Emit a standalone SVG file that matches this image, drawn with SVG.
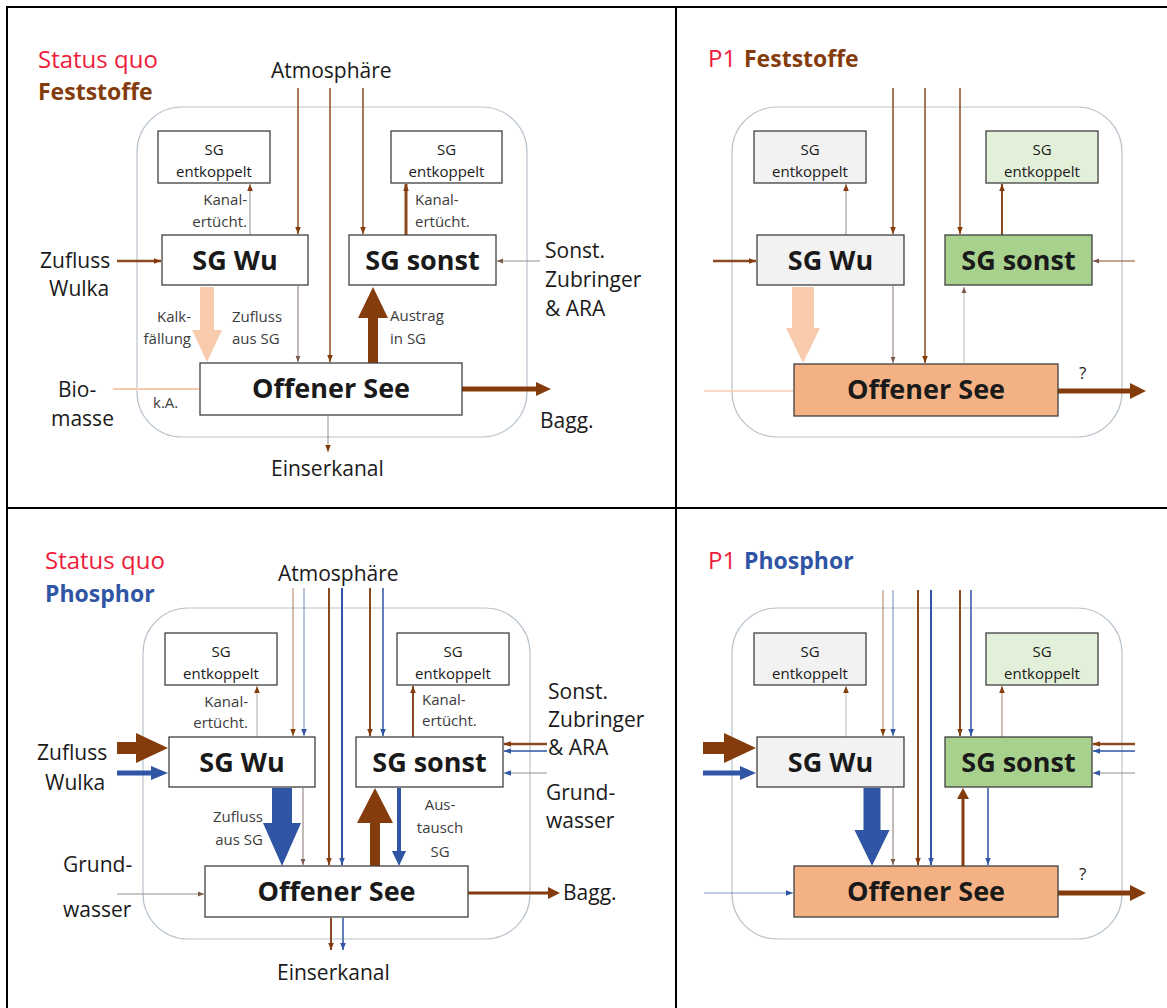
<svg xmlns="http://www.w3.org/2000/svg" width="1167" height="1008" viewBox="0 0 1167 1008">
<defs>
<style>
.t{font-family:"Open Sans","Noto Sans","Liberation Sans",sans-serif;fill:#1a1a1a}
.s{font-size:15px;fill:#3c3c3c}
.m{font-size:21px}
.b{font-size:27px;font-weight:bold;text-anchor:middle}
.n{font-size:15px;text-anchor:middle}
.c{text-anchor:middle}
.e{text-anchor:end}
.box{fill:#fff;stroke:#404040;stroke-width:1.3}
.g1{fill:#f2f2f2}
.g2{fill:#e2f0d9}
.g3{fill:#a9d18e}
.os{fill:#f4b183}
.cont{fill:none;stroke:#b9c3cc;stroke-width:1.2}
.br{stroke:#8b4a20;fill:none}
.bl{stroke:#2f55a4;fill:none}
.gr{stroke:#9a8c86;fill:none}
.lg{stroke:#c9c4c2;fill:none}
.pe{stroke:#f8cbad;fill:none}
.fb{fill:#843c0c}
.fu{fill:#2f55a4}
.fp{fill:#f8cbad}
.frame{stroke:#000;stroke-width:2;fill:none}
</style>
<marker id="mb" viewBox="0 0 10 10" refX="10" refY="5" markerWidth="7" markerHeight="7" markerUnits="userSpaceOnUse" orient="auto"><path d="M0,1 L10,5 L0,9 z" fill="#843c0c"/></marker>
<marker id="mu" viewBox="0 0 10 10" refX="10" refY="5" markerWidth="7" markerHeight="7" markerUnits="userSpaceOnUse" orient="auto"><path d="M0,1 L10,5 L0,9 z" fill="#2f55a4"/></marker>
<marker id="mg" viewBox="0 0 10 10" refX="10" refY="5" markerWidth="6" markerHeight="6" markerUnits="userSpaceOnUse" orient="auto"><path d="M0,1 L10,5 L0,9 z" fill="#7a5a4a"/></marker>
</defs>
<rect x="0" y="0" width="1167" height="1008" fill="#fff"/>
<g id="frame">
<line x1="7" y1="7" x2="1167" y2="7" class="frame"/>
<line x1="7" y1="6" x2="7" y2="1008" class="frame"/>
<line x1="676" y1="7" x2="676" y2="1008" class="frame"/>
<line x1="7" y1="508" x2="1167" y2="508" class="frame"/>
</g>

<!-- Panel 1 -->
<g id="panel1">
<rect class="cont" x="137" y="107" width="390" height="330" rx="45"/>
<g id="p1-title" class="t"><text x="38" y="68" font-size="24" style="fill:#ee1b3b">Status quo</text><text x="38" y="100" font-size="23" font-weight="bold" style="fill:#843c0c">Feststoffe</text></g>
<g id="p1-connectors">
<line x1="298" y1="88" x2="298" y2="234" class="br" stroke-width="1.5" marker-end="url(#mb)"/>
<line x1="330" y1="88" x2="330" y2="362" class="br" stroke-width="1.5" marker-end="url(#mb)"/>
<line x1="363" y1="88" x2="363" y2="234" class="br" stroke-width="1.5" marker-end="url(#mb)"/>
<line x1="250" y1="235" x2="250" y2="184" class="gr" stroke-width="1" marker-end="url(#mb)"/>
<line x1="406" y1="235" x2="406" y2="184" class="br" stroke-width="3" marker-end="url(#mb)"/>
<line x1="117" y1="261" x2="161" y2="261" class="br" stroke-width="2.5" marker-end="url(#mb)"/>
<line x1="540" y1="261" x2="497" y2="261" class="gr" stroke-width="1" marker-end="url(#mg)"/>
<polygon class="fp" points="200,287 214,287 214,330 222,330 207,362 192,330 200,330"/>
<line x1="298" y1="286" x2="298" y2="362" class="gr" stroke-width="1.2" marker-end="url(#mg)"/>
<polygon class="fb" points="373,287 388,318 378,318 378,363 368,363 368,318 358,318"/>
<line x1="462" y1="389" x2="537" y2="389" stroke="#843c0c" stroke-width="5"/>
<polygon class="fb" points="536,382 551,389 536,396"/>
<line x1="113" y1="389" x2="199" y2="389" class="pe" stroke-width="2"/>
<line x1="328" y1="416" x2="328" y2="452" class="gr" stroke-width="1" marker-end="url(#mb)"/>
</g>
<g id="p1-sge-l"><rect class="box" x="158" y="131" width="112" height="52"/><text class="t n" x="214" y="155">SG</text><text class="t n" x="214" y="177">entkoppelt</text></g>
<g id="p1-sge-r"><rect class="box" x="391" y="131" width="111" height="52"/><text class="t n" x="446.5" y="155">SG</text><text class="t n" x="446.5" y="177">entkoppelt</text></g>
<g id="p1-sgwu"><rect class="box" x="162" y="235" width="146" height="50"/><text class="t b" x="235" y="270">SG Wu</text></g>
<g id="p1-sgsonst"><rect class="box" x="349" y="235" width="147" height="50"/><text class="t b" x="422.5" y="270">SG sonst</text></g>
<g id="p1-os"><rect class="box" x="200" y="363" width="262" height="52"/><text class="t b" x="331" y="398">Offener See</text></g>
<g id="p1-labels">
<text class="t m" x="271" y="78">Atmosphäre</text>
<text class="t s e" x="247" y="205">Kanal-</text><text class="t s e" x="247" y="227">ertücht.</text>
<text class="t s" x="415" y="205">Kanal-</text><text class="t s" x="415" y="227">ertücht.</text>
<text class="t m" x="40" y="268">Zufluss</text><text class="t m" x="49" y="296">Wulka</text>
<text class="t m" x="545" y="258">Sonst.</text><text class="t m" x="545" y="287">Zubringer</text><text class="t m" x="545" y="316">&amp; ARA</text>
<text class="t s e" x="191" y="322">Kalk-</text><text class="t s e" x="191" y="344">fällung</text>
<text class="t s" x="232" y="322">Zufluss</text><text class="t s" x="232" y="344">aus SG</text>
<text class="t s" x="390" y="321">Austrag</text><text class="t s" x="390" y="344">in SG</text>
<text class="t m" x="540" y="428">Bagg.</text>
<text class="t m" x="58" y="397">Bio-</text><text class="t m" x="51" y="426">masse</text>
<text class="t s" x="153" y="408">k.A.</text>
<text class="t m" x="271" y="476">Einserkanal</text>
</g>
</g>

<!-- Panel 2 -->
<g id="panel2">
<rect class="cont" x="732" y="107" width="390" height="330" rx="45"/>
<g id="p2-title" class="t"><text x="708" y="67" font-size="24" style="fill:#ee1b3b">P1</text><text x="744" y="67" font-size="23" font-weight="bold" style="fill:#843c0c">Feststoffe</text></g>
<g id="p2-connectors">
<line x1="893" y1="88" x2="893" y2="234" class="br" stroke-width="1.5" marker-end="url(#mb)"/>
<line x1="925" y1="88" x2="925" y2="363" class="br" stroke-width="1.5" marker-end="url(#mb)"/>
<line x1="960" y1="88" x2="960" y2="234" class="br" stroke-width="1.5" marker-end="url(#mb)"/>
<line x1="846" y1="235" x2="846" y2="184" class="gr" stroke-width="1" marker-end="url(#mb)"/>
<line x1="1002" y1="235" x2="1002" y2="184" class="br" stroke-width="2" marker-end="url(#mb)"/>
<line x1="713" y1="261" x2="756" y2="261" class="br" stroke-width="2.5" marker-end="url(#mb)"/>
<line x1="1135" y1="261" x2="1093" y2="261" class="br" stroke-width="1" marker-end="url(#mg)"/>
<polygon class="fp" points="792,287 814,287 814,328 820,328 803,363 786,328 792,328"/>
<line x1="893" y1="286" x2="893" y2="363" class="gr" stroke-width="1.2" marker-end="url(#mg)"/>
<line x1="964" y1="363" x2="964" y2="287" class="lg" stroke-width="1.2" marker-end="url(#mg)"/>
<line x1="1058" y1="391" x2="1132" y2="391" stroke="#843c0c" stroke-width="5"/>
<polygon class="fb" points="1130,383 1146,391 1130,399"/>
<line x1="704" y1="391" x2="793" y2="391" class="pe" stroke-width="1.5"/>
</g>
<g id="p2-sge-l"><rect class="box g1" x="754" y="131" width="112" height="52"/><text class="t n" x="810" y="155">SG</text><text class="t n" x="810" y="177">entkoppelt</text></g>
<g id="p2-sge-r"><rect class="box g2" x="986" y="131" width="112" height="52"/><text class="t n" x="1042" y="155">SG</text><text class="t n" x="1042" y="177">entkoppelt</text></g>
<g id="p2-sgwu"><rect class="box g1" x="757" y="235" width="147" height="50"/><text class="t b" x="830.5" y="270">SG Wu</text></g>
<g id="p2-sgsonst"><rect class="box g3" x="945" y="235" width="147" height="50"/><text class="t b" x="1018.5" y="270">SG sonst</text></g>
<g id="p2-os"><rect class="box os" x="794" y="364" width="264" height="52"/><text class="t b" x="926" y="399">Offener See</text></g>
<text class="t" x="1079" y="379" font-size="17">?</text>
</g>

<!-- Panel 3 -->
<g id="panel3">
<rect class="cont" x="143" y="608" width="387" height="331" rx="45"/>
<g id="p3-title" class="t"><text x="45" y="569" font-size="24" style="fill:#ee1b3b">Status quo</text><text x="45" y="602" font-size="23" font-weight="bold" style="fill:#2f55a4">Phosphor</text></g>
<g id="p3-connectors">
<line x1="293" y1="588" x2="293" y2="736" class="br" stroke-width="1" stroke-opacity="0.7" marker-end="url(#mb)"/>
<line x1="304" y1="588" x2="304" y2="736" class="bl" stroke-width="1" stroke-opacity="0.7" marker-end="url(#mu)"/>
<line x1="329" y1="588" x2="329" y2="865" class="br" stroke-width="2" marker-end="url(#mb)"/>
<line x1="342" y1="588" x2="342" y2="865" class="bl" stroke-width="2" marker-end="url(#mu)"/>
<line x1="370" y1="588" x2="370" y2="736" class="br" stroke-width="2" marker-end="url(#mb)"/>
<line x1="383" y1="588" x2="383" y2="736" class="bl" stroke-width="1.5" marker-end="url(#mu)"/>
<line x1="257" y1="737" x2="257" y2="686" class="lg" stroke-width="1.5" marker-end="url(#mb)"/>
<line x1="413" y1="737" x2="413" y2="686" class="br" stroke-width="2" marker-end="url(#mb)"/>
<polygon class="fb" points="117,742 136,742 136,733 168,748 136,763 136,754 117,754"/>
<polygon class="fu" points="117,770.5 151,770.5 151,766 168,773 151,780 151,775.5 117,775.5"/>
<line x1="547" y1="744" x2="504" y2="744" class="br" stroke-width="2.5" marker-end="url(#mb)"/>
<line x1="547" y1="751" x2="504" y2="751" class="bl" stroke-width="1.5" marker-end="url(#mu)"/>
<line x1="547" y1="773" x2="504" y2="773" class="gr" stroke-width="1" marker-end="url(#mu)"/>
<polygon class="fu" points="272,788 292,788 292,823 301,823 282,866 263,823 272,823"/>
<line x1="303" y1="788" x2="303" y2="865" class="gr" stroke-width="1.2" marker-end="url(#mg)"/>
<polygon class="fb" points="375,788 393,823 380,823 380,866 370,866 370,823 357,823"/>
<polygon class="fu" points="397,788 401,788 401,851 406,851 399,866 392,851 397,851"/>
<line x1="468" y1="893" x2="550" y2="893" stroke="#843c0c" stroke-width="3"/>
<polygon class="fb" points="548,887 560,893 548,899"/>
<line x1="117" y1="894" x2="204" y2="894" class="gr" stroke-width="1" marker-end="url(#mg)"/>
<line x1="331" y1="918" x2="331" y2="950" class="br" stroke-width="2" marker-end="url(#mb)"/>
<line x1="343" y1="918" x2="343" y2="950" class="bl" stroke-width="1.5" marker-end="url(#mu)"/>
</g>
<g id="p3-sge-l"><rect class="box" x="165" y="633" width="112" height="52"/><text class="t n" x="221" y="657">SG</text><text class="t n" x="221" y="679">entkoppelt</text></g>
<g id="p3-sge-r"><rect class="box" x="397" y="633" width="112" height="52"/><text class="t n" x="453" y="657">SG</text><text class="t n" x="453" y="679">entkoppelt</text></g>
<g id="p3-sgwu"><rect class="box" x="169" y="737" width="146" height="50"/><text class="t b" x="242" y="772">SG Wu</text></g>
<g id="p3-sgsonst"><rect class="box" x="356" y="737" width="147" height="50"/><text class="t b" x="429.5" y="772">SG sonst</text></g>
<g id="p3-os"><rect class="box" x="205" y="866" width="263" height="51"/><text class="t b" x="336.5" y="901">Offener See</text></g>
<g id="p3-labels">
<text class="t m" x="278" y="581">Atmosphäre</text>
<text class="t s e" x="248" y="707">Kanal-</text><text class="t s e" x="248" y="728">ertücht.</text>
<text class="t s" x="422" y="705">Kanal-</text><text class="t s" x="422" y="726">ertücht.</text>
<text class="t m" x="37" y="760">Zufluss</text><text class="t m" x="45" y="790">Wulka</text>
<text class="t m" x="548" y="699">Sonst.</text><text class="t m" x="548" y="727">Zubringer</text><text class="t m" x="548" y="755">&amp; ARA</text>
<text class="t m" x="546" y="800">Grund-</text><text class="t m" x="546" y="828">wasser</text>
<text class="t s e" x="263" y="822">Zufluss</text><text class="t s e" x="263" y="845">aus SG</text>
<text class="t s c" x="440" y="810">Aus-</text><text class="t s c" x="440" y="833">tausch</text><text class="t s c" x="440" y="857">SG</text>
<text class="t m" x="563" y="900">Bagg.</text>
<text class="t m" x="63" y="872">Grund-</text><text class="t m" x="63" y="917">wasser</text>
<text class="t m" x="277" y="980">Einserkanal</text>
</g>
</g>

<!-- Panel 4 -->
<g id="panel4">
<rect class="cont" x="732" y="608" width="390" height="331" rx="45"/>
<g id="p4-title" class="t"><text x="708" y="569" font-size="24" style="fill:#ee1b3b">P1</text><text x="744" y="569" font-size="23" font-weight="bold" style="fill:#2f55a4">Phosphor</text></g>
<g id="p4-connectors">
<line x1="883" y1="590" x2="883" y2="736" class="br" stroke-width="1" stroke-opacity="0.7" marker-end="url(#mb)"/>
<line x1="893" y1="590" x2="893" y2="736" class="bl" stroke-width="1" stroke-opacity="0.7" marker-end="url(#mu)"/>
<line x1="918" y1="590" x2="918" y2="865" class="br" stroke-width="2" marker-end="url(#mb)"/>
<line x1="931" y1="590" x2="931" y2="865" class="bl" stroke-width="2" marker-end="url(#mu)"/>
<line x1="960" y1="590" x2="960" y2="736" class="br" stroke-width="2" marker-end="url(#mb)"/>
<line x1="971" y1="590" x2="971" y2="736" class="bl" stroke-width="1.5" marker-end="url(#mu)"/>
<line x1="846" y1="737" x2="846" y2="686" class="lg" stroke-width="1.2" marker-end="url(#mb)"/>
<line x1="1002" y1="737" x2="1002" y2="686" class="br" stroke-width="1.2" stroke-opacity="0.6" marker-end="url(#mb)"/>
<polygon class="fb" points="703,742 724,742 724,733 756,748 724,763 724,754 703,754"/>
<polygon class="fu" points="703,770.5 740,770.5 740,766 756,773 740,780 740,775.5 703,775.5"/>
<line x1="1135" y1="744" x2="1093" y2="744" class="br" stroke-width="2.5" marker-end="url(#mb)"/>
<line x1="1135" y1="751" x2="1093" y2="751" class="bl" stroke-width="1.5" marker-end="url(#mu)"/>
<line x1="1135" y1="773" x2="1093" y2="773" class="gr" stroke-width="1" marker-end="url(#mu)"/>
<polygon class="fu" points="863.5,788 880.5,788 880.5,830 889.5,830 872,866 854.5,830 863.5,830"/>
<line x1="893" y1="788" x2="893" y2="865" class="gr" stroke-width="1.2" marker-end="url(#mg)"/>
<line x1="963" y1="866" x2="963" y2="797" stroke="#843c0c" stroke-width="3"/>
<polygon class="fb" points="963,788 969,799 957,799"/>
<line x1="988" y1="788" x2="988" y2="865" class="bl" stroke-width="1.5" marker-end="url(#mu)"/>
<line x1="1058" y1="893" x2="1132" y2="893" stroke="#843c0c" stroke-width="5"/>
<polygon class="fb" points="1130,885 1146,893 1130,901"/>
<line x1="704" y1="893" x2="793" y2="893" class="bl" stroke-width="1" stroke-opacity="0.6" marker-end="url(#mu)"/>
</g>
<g id="p4-sge-l"><rect class="box g1" x="754" y="633" width="112" height="52"/><text class="t n" x="810" y="657">SG</text><text class="t n" x="810" y="679">entkoppelt</text></g>
<g id="p4-sge-r"><rect class="box g2" x="986" y="633" width="112" height="52"/><text class="t n" x="1042" y="657">SG</text><text class="t n" x="1042" y="679">entkoppelt</text></g>
<g id="p4-sgwu"><rect class="box g1" x="757" y="737" width="147" height="50"/><text class="t b" x="830.5" y="772">SG Wu</text></g>
<g id="p4-sgsonst"><rect class="box g3" x="945" y="737" width="147" height="50"/><text class="t b" x="1018.5" y="772">SG sonst</text></g>
<g id="p4-os"><rect class="box os" x="794" y="866" width="264" height="51"/><text class="t b" x="926" y="901">Offener See</text></g>
<text class="t" x="1079" y="880" font-size="17">?</text>
</g>
</svg>
